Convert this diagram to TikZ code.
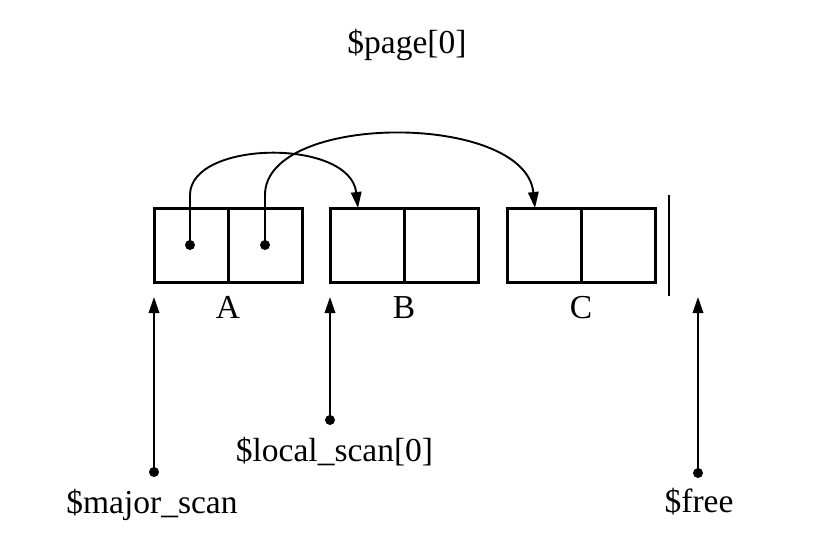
\documentclass[tikz,border=0pt]{standalone}
\usepackage{fontspec}
\setmainfont{Liberation Serif}
\usetikzlibrary{arrows.meta,calc}
\begin{document}
\begin{tikzpicture}[x=1pt,y=-1pt,
  cell/.style={draw,line width=3pt,minimum width=148pt,minimum height=74pt,inner sep=0pt,outer sep=0pt},
  dot/.style={circle,fill,inner sep=0pt,minimum size=10pt},
  lbl/.style={font=\fontsize{33.5}{40}\selectfont,inner sep=0pt,anchor=base},
  ptr/.style={line width=1.9pt,-{Triangle[length=16pt,width=10.5pt]}},
  every node/.style={text=black}]
\useasboundingbox (0,0) rectangle (836,558);
% boxes
\node[cell] (A) at (228,245) {};
\node[cell] (B) at (404,245) {};
\node[cell] (C) at (581,245) {};
\foreach \b in {A,B,C} \draw[line width=3pt] (\b.north) -- (\b.south);
% end bar
\coordinate (bt) at (669,195);
\coordinate (bb) at (669,296);
\draw[line width=2pt] (bt) -- (bb);
% labels
\node[lbl] (la) at (228,318) {A};
\node[lbl] (lb) at (404,318) {B};
\node[lbl] (lc) at (581,318) {C};
\node[lbl] (page) at (407,53) {\$page[0]};
% pointers inside A
\node[dot] (d1) at (190,245) {};
\node[dot] (d2) at (265,245) {};
\coordinate (tB) at ($(B.north west)+(28,0)$);
\coordinate (tC) at ($(C.north west)+(28,0)$);
\draw[ptr] (d1.center) -- (190,195) .. controls (190,140) and (350,138) .. (tB);
\draw[ptr] (d2.center) -- (265,195) .. controls (265,112) and (525,112) .. (tC);
% scan pointers
\node[dot] (dm) at (154,472) {};
\node[dot] (dl) at (330,420) {};
\node[dot] (df) at (698,473) {};
\coordinate (am) at (154,297);
\coordinate (al) at (330,297);
\coordinate (af) at (698,297);
\draw[ptr] (dm.center) -- (am);
\draw[ptr] (dl.center) -- (al);
\draw[ptr] (df.center) -- (af);
\node[lbl] (major) at (152,513) {\$major\_scan};
\node[lbl] (local) at (334.5,461) {\$local\_scan[0]};
\node[lbl] (free) at (699,512) {\$free};
\end{tikzpicture}
\end{document}
